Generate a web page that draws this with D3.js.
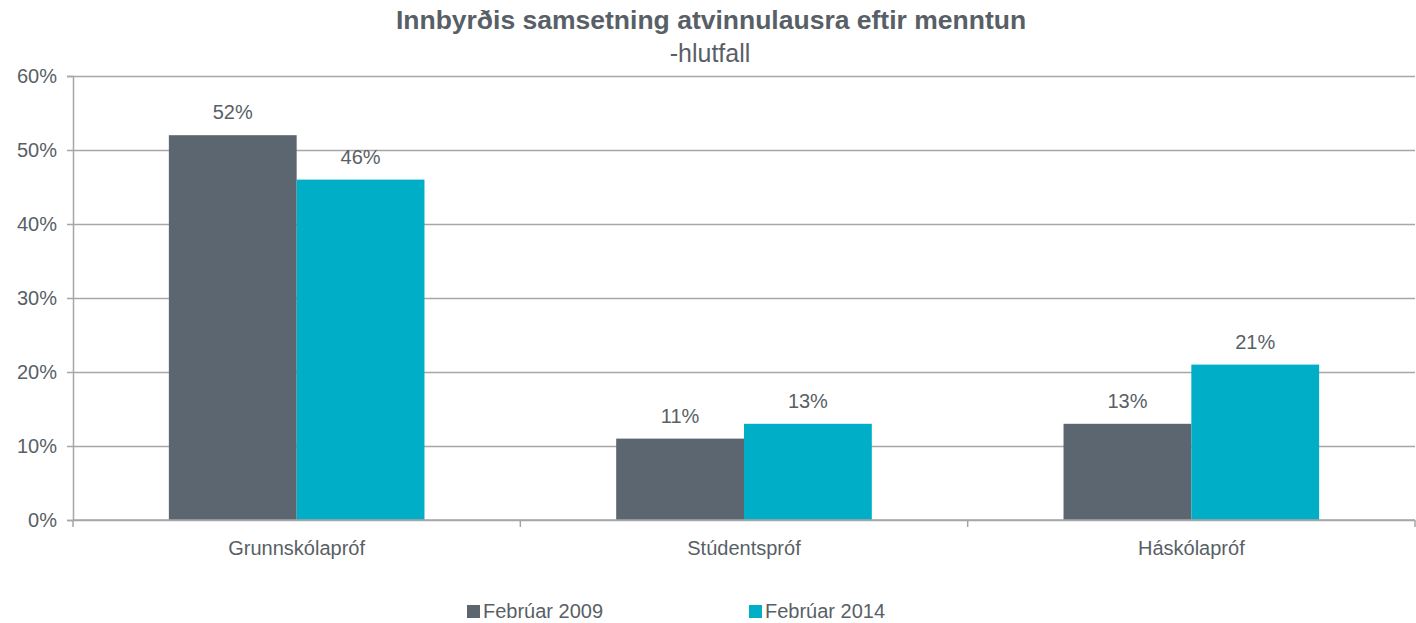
<!DOCTYPE html>
<html>
<head>
<meta charset="utf-8">
<script src="https://cdn.jsdelivr.net/npm/d3@7"></script>
<style>
  body { margin: 0; background: #fff; }
  text { font-family: "Liberation Sans", Arial, sans-serif; fill: #595f66; }
</style>
</head>
<body>
<svg id="chart" width="1416" height="623"></svg>
<script>
const categories = ["Grunnskólapróf", "Stúdentspróf", "Háskólapróf"];
const seriesNames = ["Febrúar 2009", "Febrúar 2014"];
const values2009 = [52, 11, 13];
const values2014 = [46, 13, 21];
const yTicks = [0, 10, 20, 30, 40, 50, 60];
const colors = ["#5b6670", "#00afc7"];

const margin = { top: 76, right: 1, bottom: 103, left: 73 };
const width = 1416 - margin.left - margin.right;
const height = 623 - margin.top - margin.bottom;

const svg = d3.select("#chart");
const g = svg.append("g").attr("transform", `translate(${margin.left},${margin.top})`);

const x = d3.scaleBand().domain(categories).range([0, width]);
const x1 = d3.scaleBand().domain(seriesNames).range([0, x.bandwidth()]).paddingOuter(0.75);
const y = d3.scaleLinear().domain([0, 60]).range([height, 0]);

// grid
g.append("g")
    .call(d3.axisLeft(y).tickValues(yTicks).tickSize(-width).tickFormat(""))
    .call(s => s.select(".domain").remove())
    .selectAll("line").attr("stroke", "#a6a6a6").attr("stroke-width", 1.5);

// y axis
const yAxis = g.append("g")
    .call(d3.axisLeft(y).tickValues(yTicks).tickSize(6).tickPadding(10).tickFormat(d => d + "%"));
yAxis.select(".domain").attr("stroke", "#a6a6a6").attr("stroke-width", 1.5);
yAxis.selectAll("line").attr("stroke", "#a6a6a6").attr("stroke-width", 1.5);
yAxis.selectAll("text").style("font-size", "20px").attr("fill", "#595f66");

const series = [values2009, values2014];
categories.forEach((c, i) => {
    seriesNames.forEach((s, j) => {
        const v = series[j][i];
        const bx = x(c) + x1(s);
        g.append("rect")
            .attr("x", bx).attr("y", y(v))
            .attr("width", x1.bandwidth()).attr("height", height - y(v))
            .attr("fill", colors[j]);
        g.append("text")
            .attr("x", bx + x1.bandwidth() / 2).attr("y", y(v) - 16)
            .attr("text-anchor", "middle")
            .style("font-size", "20px")
            .text(v + "%");
    });
});

// x axis
const xAxis = g.append("g").attr("transform", `translate(0,${height})`);
xAxis.append("line").attr("x1", 0).attr("x2", width).attr("stroke", "#a6a6a6").attr("stroke-width", 1.5);
[0, 1, 2, 3].forEach(k => {
    const tx = k * x.bandwidth();
    xAxis.append("line").attr("x1", tx).attr("x2", tx).attr("y1", 0).attr("y2", 7)
        .attr("stroke", "#a6a6a6").attr("stroke-width", 1.5);
});
categories.forEach(c => {
    xAxis.append("text")
        .attr("x", x(c) + x.bandwidth() / 2).attr("y", 35)
        .attr("text-anchor", "middle")
        .style("font-size", "20px")
        .text(c);
});

// title
svg.append("text").attr("x", 711).attr("y", 29).attr("text-anchor", "middle")
    .style("font-size", "26.5px").style("font-weight", "bold").text("Innbyrðis samsetning atvinnulausra eftir menntun");
svg.append("text").attr("x", 710).attr("y", 62).attr("text-anchor", "middle")
    .style("font-size", "25px").text("-hlutfall");

// legend
const legendX = [467, 749];
seriesNames.forEach((s, j) => {
    const lg = svg.append("g").attr("transform", `translate(${legendX[j]},605)`);
    lg.append("rect").attr("x", 0).attr("y", 0).attr("width", 13).attr("height", 13).attr("fill", colors[j]);
    lg.append("text").attr("x", 16).attr("y", 13).style("font-size", "20px").text(s);
});
</script>
</body>
</html>
